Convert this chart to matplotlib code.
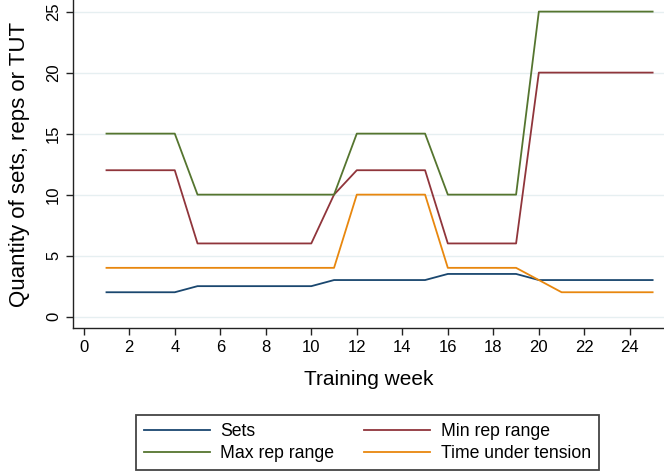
import numpy as np
import matplotlib
matplotlib.use('Agg')
import matplotlib.pyplot as plt

plt.rcParams['font.family'] = ['Liberation Sans', 'DejaVu Sans']

# weekly training plan
weeks = list(range(1, 26))
sets = [2, 2, 2, 2, 2.5, 2.5, 2.5, 2.5, 2.5, 2.5, 3, 3, 3, 3, 3,
        3.5, 3.5, 3.5, 3.5, 3, 3, 3, 3, 3, 3]
min_reps = [12, 12, 12, 12, 6, 6, 6, 6, 6, 6, 10, 12, 12, 12, 12,
            6, 6, 6, 6, 20, 20, 20, 20, 20, 20]
max_reps = [15, 15, 15, 15, 10, 10, 10, 10, 10, 10, 10, 15, 15, 15, 15,
            10, 10, 10, 10, 25, 25, 25, 25, 25, 25]
tut = [4, 4, 4, 4, 4, 4, 4, 4, 4, 4, 4, 10, 10, 10, 10,
       4, 4, 4, 4, 3, 2, 2, 2, 2, 2]

fig = plt.figure(figsize=(6.64, 4.71), dpi=100)
ax = fig.add_axes([0.110, 0.3036, 0.890, 0.6964])

l1, = ax.plot(weeks, sets, color='#1a476f', lw=1.3, label='Sets')
l2, = ax.plot(weeks, min_reps, color='#90353b', lw=1.3, label='Min rep range')
l3, = ax.plot(weeks, max_reps, color='#55752f', lw=1.3, label='Max rep range')
l4, = ax.plot(weeks, tut, color='#e8870e', lw=1.3, label='Time under tension')

ax.set_xlim(-0.47, 25.5)
ax.set_ylim(-0.93, 25.95)
ax.set_xticks(np.arange(0, 25, 2))
ax.set_yticks(np.arange(0, 26, 5))
ax.yaxis.grid(True, color='#e6eff1', lw=1)
ax.set_axisbelow(True)
for s in ['top', 'right']:
    ax.spines[s].set_visible(False)
for s in ['left', 'bottom']:
    ax.spines[s].set_color('#222222')
    ax.spines[s].set_linewidth(1)
ax.tick_params(axis='both', labelsize=12, length=5, width=1, color='#222222')
plt.setp(ax.get_yticklabels(), rotation=90, va='center')

ax.set_xlabel('Training week', fontsize=15, labelpad=11)
ax.set_ylabel('Quantity of sets, reps or TUT', fontsize=16, labelpad=12)

leg = fig.legend(handles=[l1, l3, l2, l4], ncol=2, loc='lower center',
                 bbox_to_anchor=(0.5535, 0.002), borderaxespad=0,
                 fontsize=12.7, fancybox=False, edgecolor='#444444',
                 framealpha=1, handlelength=3.7, handletextpad=0.62,
                 columnspacing=1.7, borderpad=0.45, labelspacing=0.3)
leg.get_frame().set_linewidth(1.3)

plt.savefig('out.png', dpi=100)
